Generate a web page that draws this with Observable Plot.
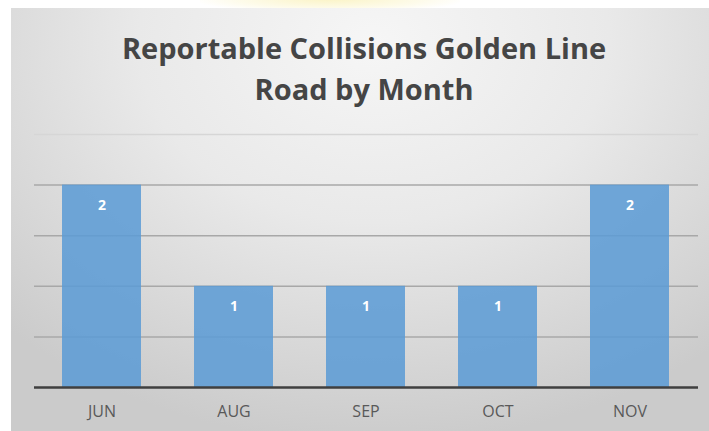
<!DOCTYPE html>
<html>
<head>
<meta charset="utf-8">
<script src="https://cdn.jsdelivr.net/npm/d3@7"></script>
<script src="https://cdn.jsdelivr.net/npm/@observablehq/plot@0.6"></script>
<style>
  html, body { margin: 0; padding: 0; background: #ffffff; }
  #page { position: relative; width: 709px; height: 431px; overflow: hidden; background: #ffffff; }
  #smudge { position: absolute; left: 0; top: 0; width: 709px; height: 8px; overflow: hidden; }
  #smudge div { position: absolute; left: 200px; top: -14px; width: 260px; height: 26px;
    background: radial-gradient(ellipse at center, rgba(248,236,160,0.6) 0%, rgba(250,242,185,0.3) 50%, rgba(255,255,255,0) 75%); }
  #panel { position: absolute; left: 11px; top: 8px; width: 698px; height: 423px;
    background: radial-gradient(ellipse 75% 95% at 52% 8%, #f6f6f6 0%, #e9e9e9 45%, #d6d6d6 80%, #cbcbcb 100%); }
  #title { height: 110px; box-sizing: border-box; padding-top: 18.5px; padding-left: 8px;
    font-family: "Open Sans", sans-serif; font-weight: 700; font-size: 29px; line-height: 41px;
    color: #454545; text-align: center; white-space: nowrap; }
  #chart svg { display: block; }
</style>
</head>
<body>
<div id="page">
  <div id="smudge"><div></div></div>
  <div id="panel">
    <div id="title">Reportable Collisions Golden Line<br>Road by Month</div>
    <div id="chart"></div>
  </div>
</div>
<script>
const months = ["JUN", "AUG", "SEP", "OCT", "NOV"];
const collisions = [2, 1, 1, 1, 2];
const gridTicks = [0.5, 1, 1.5, 2, 2.5];

const data = months.map((m, i) => ({month: m, value: collisions[i]}));

const chart = Plot.plot({
  width: 698,
  height: 313,
  marginLeft: 23,
  marginRight: 11,
  marginTop: 16,
  marginBottom: 44,
  style: { background: "transparent", fontFamily: "Open Sans, sans-serif", overflow: "visible" },
  x: { domain: months, paddingInner: 0.4, paddingOuter: 0.2, align: 0.5, label: null },
  y: { domain: [0, 2.5], axis: null },
  marks: [
    Plot.ruleY(gridTicks, { stroke: d => d === 2.5 ? "#d6d6d6" : "#a8a8a8", strokeWidth: 1.5 }),
    Plot.barY(data, { x: "month", y: "value", fill: "#5b9bd5", fillOpacity: 0.86, inset: 0 }),
    Plot.text(data, { x: "month", y: "value", text: d => String(d.value), dy: 20,
      fill: "#ffffff", fontWeight: "bold", fontSize: 14 }),
    Plot.ruleY([0], { stroke: "#3f3f3f", strokeWidth: 2.5 }),
    Plot.axisX({ tickSize: 0, tickPadding: 18, fontSize: 16, color: "#595959", label: null })
  ]
});
chart.querySelectorAll("[aria-label='x-axis tick label'] text").forEach(t => t.setAttribute("fill", "#595959"));
document.getElementById("chart").appendChild(chart);
</script>
</body>
</html>
